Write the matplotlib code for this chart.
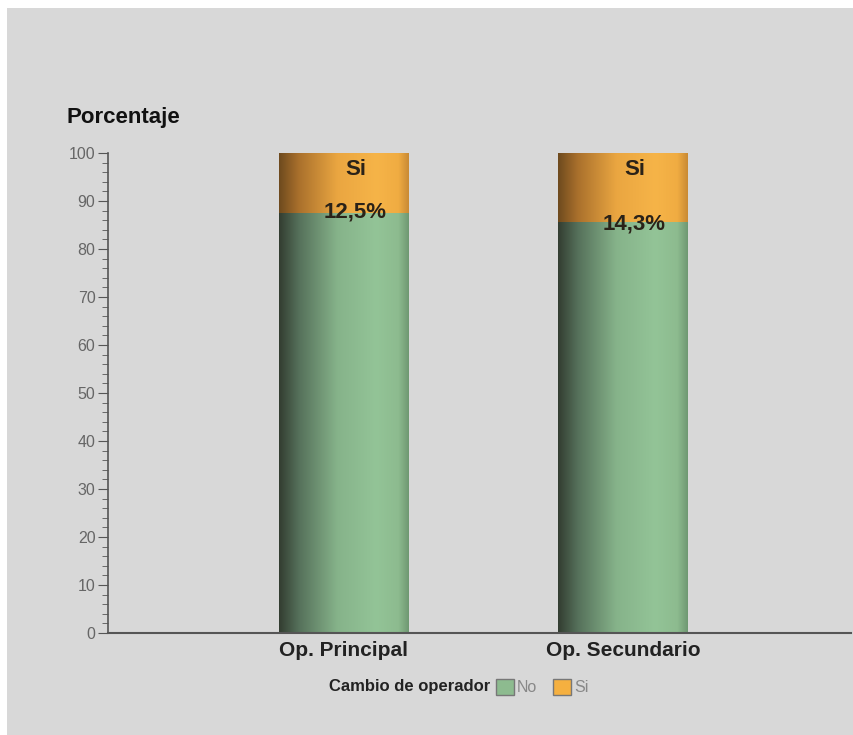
import numpy as np
import matplotlib
matplotlib.use("Agg")
import matplotlib.pyplot as plt
from matplotlib.patches import Rectangle
from matplotlib.colors import LinearSegmentedColormap
from matplotlib.ticker import MultipleLocator

plt.rcParams["font.family"] = ["Liberation Sans", "DejaVu Sans"]

categories = ["Op. Principal", "Op. Secundario"]
no_values = [87.5, 85.7]
si_values = [12.5, 14.3]
si_labels = ["12,5%", "14,3%"]
legend_title = "Cambio de operador"
series_names = ["No", "Si"]

W, H = 854, 735
fig = plt.figure(figsize=(W / 100, H / 100), dpi=100)
fig.patch.set_facecolor("white")
fig.patches.append(Rectangle((7 / W, 0), 1 - 7 / W, 1 - 8 / H, transform=fig.transFigure,
                             facecolor="#d8d8d8", edgecolor="none", zorder=-10))

ax_left, ax_right = 108, 851
y0_px, y100_px = 633, 153
ax = fig.add_axes([ax_left / W, (H - y0_px) / H, (ax_right - ax_left) / W, (y0_px - y100_px) / H])
ax.set_facecolor("none")

px_per_unit = 279.0
c0 = 344.0
xmin = -(c0 - ax_left) / px_per_unit
xmax = (ax_right - c0) / px_per_unit
width = 130 / px_per_unit
x = np.arange(len(categories))

green_cmap = LinearSegmentedColormap.from_list(
    "g", [(0, "#333d31"), (0.15, "#55705a"), (0.45, "#86b38a"), (0.75, "#93c497"), (0.92, "#8dbb8f"), (1, "#6f9872")])
orange_cmap = LinearSegmentedColormap.from_list(
    "o", [(0, "#6e4a1e"), (0.15, "#a9702c"), (0.45, "#eaa641"), (0.75, "#f6b448"), (0.92, "#f0ac42"), (1, "#c98a35")])
grad = np.linspace(0, 1, 256).reshape(1, -1)

def grad_bar(xc, bottom, height, cmap):
    r = Rectangle((xc - width / 2, bottom), width, height, facecolor="none", edgecolor="none")
    ax.add_patch(r)
    im = ax.imshow(grad, cmap=cmap, aspect="auto",
                   extent=(xc - width / 2, xc + width / 2, bottom, bottom + height),
                   interpolation="bilinear", zorder=2)
    im.set_clip_path(r)

for i in range(len(categories)):
    grad_bar(x[i], 0, no_values[i], green_cmap)
    grad_bar(x[i], no_values[i], si_values[i], orange_cmap)
    ax.text(x[i] + 0.042, 100 - 1.2, series_names[1], ha="center", va="top", fontsize=16,
            fontweight="bold", color="#2a2218", zorder=5)
    ax.text(x[i] + 0.04, no_values[i] + 0.2 + (0 if i == 0 else -0.7), si_labels[i], ha="center",
            va="center", fontsize=16, fontweight="bold", color="#2a2218", zorder=5)

ax.set_xlim(xmin, xmax)
ax.set_ylim(0, 100)

for s in ["top", "right"]:
    ax.spines[s].set_visible(False)
ax.spines["left"].set_color("#555555")
ax.spines["bottom"].set_color("#555555")
ax.spines["bottom"].set_linewidth(1.5)
ax.spines["left"].set_linewidth(1.2)

ax.yaxis.set_major_locator(MultipleLocator(10))
ax.yaxis.set_minor_locator(MultipleLocator(2))
ax.tick_params(axis="y", which="major", length=7, color="#555555", labelsize=11.5,
               labelcolor="#666666", pad=2)
ax.tick_params(axis="y", which="minor", length=4, color="#555555")
ax.set_xticks(x)
ax.set_xticklabels(categories, fontsize=15, color="#222222", fontweight="bold")
ax.tick_params(axis="x", length=0, pad=6)

fig.text(66 / W, 1 - 117 / H, "Porcentaje", fontsize=16, fontweight="bold",
         ha="left", va="center", color="#111111")

ly = 1 - 687 / H
fig.text(490 / W, ly, legend_title, fontsize=12, fontweight="bold", ha="right",
         va="center", color="#222222")
leg_colors = ["#8dbb8f", "#f5b040"]
leg_x = [496, 553]
for name, col, lx in zip(series_names, leg_colors, leg_x):
    fig.patches.append(Rectangle((lx / W, ly - 8 / H), 18 / W, 16 / H, transform=fig.transFigure,
                                 facecolor=col, edgecolor="#777777", linewidth=1))
    fig.text((lx + 21) / W, ly, name, fontsize=11.5, ha="left", va="center", color="#888888")

fig.savefig("out.png", dpi=100)
